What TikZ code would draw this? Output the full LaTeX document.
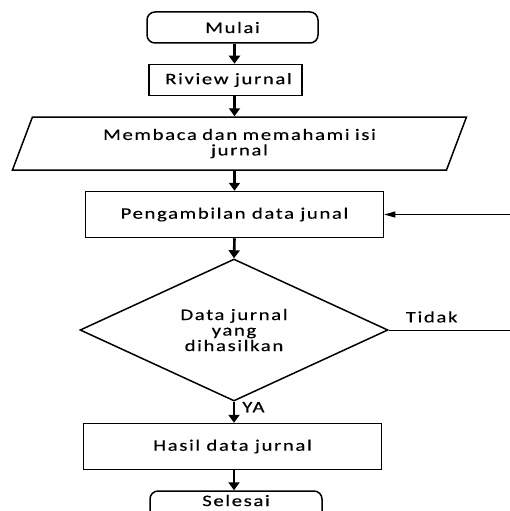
\documentclass[tikz,border=0pt]{standalone}
\usepackage{fontspec}
\setmainfont{Carlito}[LetterSpace=10, FakeStretch=1.3, FakeBold=0.3]
\usetikzlibrary{positioning,shapes.geometric,arrows.meta}

\begin{document}
\begin{tikzpicture}[
    x=1pt, y=1pt,
    font=\fontsize{16}{15.5}\selectfont,
    node distance=20pt,
    term/.style={draw, line width=1.5pt, rounded corners=8pt, minimum width=171pt, minimum height=31pt},
    proc/.style={draw, line width=1.5pt, minimum width=298pt, minimum height=46pt},
    io/.style={draw, line width=1.5pt, trapezium, trapezium left angle=61, trapezium right angle=119,
      trapezium stretches body, minimum width=454pt, minimum height=53pt, align=center, text width=340pt},
    decide/.style={draw, line width=1.5pt, diamond, aspect=2.17, minimum width=308pt, minimum height=142pt,
      inner sep=0pt, align=center},
    arrow/.style={-{Triangle[width=11pt,length=8pt]}, line width=2.6pt},
    back/.style={-{Triangle[width=6pt,length=11pt]}, line width=1pt}
  ]
    \useasboundingbox (0,0) rectangle (510,-511);
    \clip (0,0) rectangle (510,-511);

    \node[term] (mulai) at (232.5,-27.5) {Mulai};
    \node[proc, minimum width=153pt, minimum height=31pt, below=of mulai, xshift=-7pt] (riview) {\hspace{6pt}Riview jurnal};
    \node[io, below=of riview, xshift=14pt] (baca) {Membaca dan memahami isi\\jurnal};
    \node[proc, below=of baca, xshift=-5pt] (ambil) {Pengambilan data junal};
    \node[decide, below=of ambil, xshift=-0.5pt] (cek) {Data jurnal\\yang\\dihasilkan};
    \node[proc, below=21pt of cek, xshift=-1.5pt] (hasil) {Hasil data jurnal};
    \node[term, minimum width=172pt, text depth=12pt, below=of hasil, xshift=3.5pt] (selesai) {Selesai};

    \draw[arrow] (mulai.south -| ambil) -- (riview.north -| ambil);
    \draw[arrow] (riview.south -| ambil) -- (baca.north -| ambil);
    \draw[arrow] (baca.south -| ambil) -- (ambil.north);
    \draw[arrow] (ambil.south) -- (cek.north);
    \draw[arrow] (cek.south) -- node[pos=0.5, anchor=base west, xshift=7pt, inner sep=0pt] {YA} (hasil.north -| cek.south);
    \draw[arrow] (hasil.south -| cek.south) -- (selesai.north -| cek.south);
    \draw[back] (cek.east) -- node[pos=0.33, above=5pt, inner sep=2pt] {Tidak} ++(130pt,0) |- (ambil.east);
  \end{tikzpicture}
\end{document}
